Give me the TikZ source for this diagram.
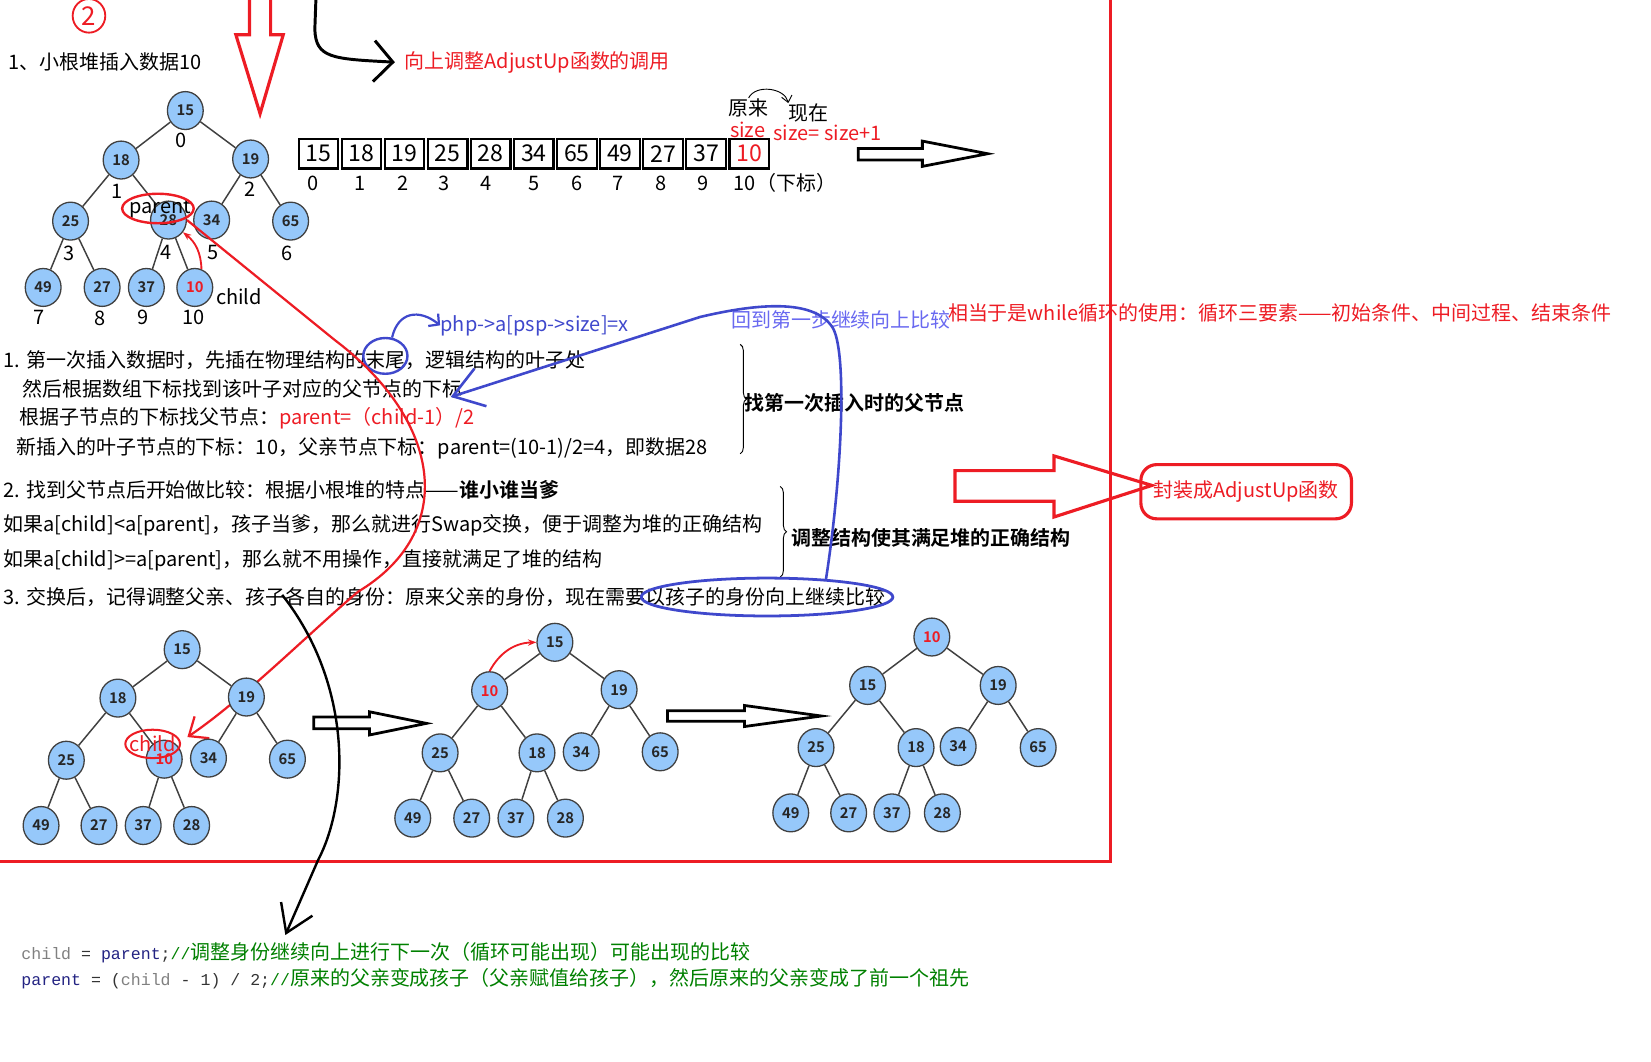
\documentclass[tikz,border=0pt]{standalone}
\usepackage{fontspec}
\setmainfont{Noto Sans CJK SC}[BoldFont={Noto Sans CJK SC Bold}]
\newfontfamily\codefont[Scale=0.83]{Liberation Mono}
\usetikzlibrary{shapes.geometric,arrows.meta,decorations.pathreplacing}
\definecolor{paintred}{RGB}{237,28,36}
\definecolor{paintblue}{RGB}{63,72,204}
\definecolor{softblue}{RGB}{105,105,240}
\definecolor{heapfill}{RGB}{150,200,250}
\definecolor{codegray}{RGB}{128,128,128}
\definecolor{codenavy}{RGB}{35,35,130}
\definecolor{codegreen}{RGB}{0,128,0}
\newcommand\mainsize{\fontsize{10.8}{13}\selectfont}

\begin{document}
\begin{tikzpicture}[x=0.02cm,y=-0.02cm,
  every node/.style={font=\mainsize,inner sep=0pt},
  hp/.style={ellipse,draw=black!75,line width=0.7pt,fill=heapfill,
    minimum width=0.68cm,minimum height=0.72cm,
    font=\fontsize{8}{9}\selectfont\bfseries,text=black!85},
  hpred/.style={hp,text=paintred},
  edge/.style={black!75,line width=0.8pt},
  cell/.style={draw,line width=1.2pt,minimum width=0.75cm,minimum height=0.56cm,
    font=\fontsize{12.5}{14}\selectfont},
  txt/.style={anchor=west},
  bold/.style={anchor=west,font=\mainsize\bfseries},
  hollow/.style={line width=1.5pt,line join=miter},
  redhollow/.style={paintred,line width=1.7pt,line join=miter},
  ringmark/.style={ellipse,line width=1.3pt}]
  \useasboundingbox (0,0) rectangle (1568,1008);

  % red frame
  \draw[paintred,line width=1.6pt] (1055,0) -- (1055,818) -- (0,818);

  % heading
  \node[ringmark,draw=paintred,line width=1pt,minimum width=0.62cm,minimum height=0.64cm,
    text=paintred,font=\fontsize{14}{14}\selectfont] (num) at (84.5,15) {2};
  \node[txt] (title) at (8,59) {1、小根堆插入数据10};
  \node[txt,text=paintred] (calltxt) at (384,59.5) {向上调整AdjustUp函数的调用};
  \draw[redhollow] (237,0) -- (237,33) -- (224,33) -- (247,108) -- (269,33) -- (257,33) -- (257,0);
  \coordinate (callin) at (300,0);
  \draw[line width=1.6pt,-{Straight Barb[length=0.36cm,width=0.78cm]},shorten >=0.18cm]
    (callin) -- (299,28) .. controls (300,55) and (315,56) .. (calltxt.west);

  % heap before the swap
  \foreach \n/\x/\y in {15/176/105,18/115/152,19/238/151,25/67/210,28/160/209,
      34/201/209,65/276/210,49/41/273,27/97/273,37/139/273}
    \node[hp] (p\n) at (\x,\y) {\n};
  \node[hpred] (p10) at (185,273) {10};
  \foreach \a/\b in {15/18,15/19,18/25,18/28,19/34,19/65,25/49,25/27,28/37,28/10}
    \draw[edge] (p\a) -- (p\b);
  \foreach \t/\x/\y in {0/172/133,1/111/182,2/237/180,3/66/241,4/158/240,5/202/240,
      6/273/241,7/37/301,8/95/302,9/136/301,10/184/301}
    \node (tl\t) at (\x,\y) {\t};
  \node (childtxt) at (227,282) {child};
  \node (parenttxt) at (152,198) {parent};
  \node[ringmark,draw=paintred,minimum width=1.36cm,minimum height=0.56cm] (pmark) at (150,198) {};
  \draw[paintred,line width=1pt,-{Stealth[length=0.16cm]}] (p10.70) to[bend right=25] (p28.-40);

  % array
  \foreach \v [count=\i from 0] in {15,18,19,25,28,34,65,49,27,37}
    \node[cell] (c\i) at ({302.5+40.9*\i},146) {\v};
  \node[cell,text=paintred] (c10) at (711.5,146) {10};
  \foreach \t/\x in {0/297,1/342,2/383,3/422,4/462,5/507,6/548,7/587,8/628,9/668,10/707}
    \node (ix\t) at (\x,174) {\t};
  \node (idxname) at (756,174) {（下标）};
  \node (old) at (711,102) {原来};
  \node (now) at (768,107) {现在};
  \node[text=paintred] (oldsize) at (710,123.5) {size};
  \node[text=paintred] (newsize) at (786,126.5) {size= size+1};
  \draw[line width=0.5pt,-{Straight Barb[length=0.12cm,width=0.2cm]}]
    (old.north) to[bend left=70] (now.north west);
  \draw[hollow] (815,141) -- (876,141) -- (876,134) -- (938,146) -- (876,158) -- (876,152) -- (815,152) -- cycle;

  % notes
  \node[txt,text=paintblue] (phptxt) at (418,309) {php->a[psp->size]=x};
  \node[txt,text=softblue] (backtxt) at (694,304) {回到第一步继续向上比较};
  \node[txt,text=paintred] (whiletxt) at (900,297) {相当于是while循环的使用：循环三要素——初始条件、中间过程、结束条件};
  \node[txt] (s1a) at (3,342) {1. 第一次插入数据时，先插在物理结构的末尾，逻辑结构的叶子处};
  \node[txt] (s1b) at (21,369) {然后根据数组下标找到该叶子对应的父节点的下标};
  \node[txt] (s1c) at (18,397) {根据子节点的下标找父节点：\textcolor{paintred}{parent=（child-1）/2}};
  \node[txt] (s1d) at (15,426) {新插入的叶子节点的下标：10，父亲节点下标：parent=(10-1)/2=4，即数据28};
  \node[bold] (s1note) at (707,383) {找第一次插入时的父节点};
  \node[txt] (s2a) at (3,465) {2. 找到父节点后开始做比较：根据小根堆的特点——\textbf{谁小谁当爹}};
  \node[txt] (s2b) at (3,499) {如果a[child]<a[parent]，孩子当爹，那么就进行Swap交换，便于调整为堆的正确结构};
  \node[txt] (s2c) at (3,532) {如果a[child]>=a[parent]，那么就不用操作，直接就满足了堆的结构};
  \node[bold] (s2note) at (751,511) {调整结构使其满足堆的正确结构};
  \node[txt] (s3) at (3,567) {3. 交换后，记得调整父亲、孩子各自的身份：原来父亲的身份，现在需要以孩子的身份向上继续比较};
  \draw[line width=0.5pt,decorate,decoration={brace,amplitude=0.12cm}] (703,327) -- (703,431);
  \draw[line width=0.5pt,decorate,decoration={brace,amplitude=0.12cm}] (741,462) -- (741,548);

  % blue marks
  \node[ringmark,draw=paintblue,minimum width=0.84cm,minimum height=0.68cm] (tailmark) at (366,338) {};
  \node[ringmark,draw=paintblue,line width=1.5pt,minimum width=4.78cm,minimum height=0.72cm] (loopmark) at (728.5,567) {};
  \draw[paintblue,line width=1.2pt,-{Straight Barb[length=0.14cm,width=0.3cm]}]
    (tailmark.70) .. controls (378,296) and (398,293) .. (phptxt.west);
  \coordinate (bluetip) at (428,377);
  \draw[paintblue,line width=1.4pt,-{Straight Barb[length=0.55cm,width=0.75cm]}]
    (loopmark.17) .. controls (800,450) and (805,330) .. (790,310)
    .. controls (772,284) and (720,288) .. (665,301) -- (bluetip);

  % red and black strokes
  \draw[paintred,line width=1.2pt,-{Straight Barb[length=0.3cm,width=0.5cm]}]
    (p28.east) -- (318,323) .. controls (420,400) and (435,505) .. (340,562)
    .. controls (295,600) and (230,665) .. (178,700);
  \coordinate (bendin) at (268,565);
  \coordinate (codein) at (271,888);
  \draw[line width=1.3pt,-{Straight Barb[length=0.5cm,width=0.65cm]}]
    (bendin) .. controls (335,650) and (332,760) .. (302,817) -- (codein);

  % heap after the swap
  \foreach \n/\x/\y in {15/173/617,18/112/663,19/234/662,25/63/722,34/198/720,
      65/273/721,49/39/784,27/94/784,37/136/784,28/182/784}
    \node[hp] (q\n) at (\x,\y) {\n};
  \node[hpred] (q10) at (156,721) {10};
  \foreach \a/\b in {15/18,15/19,18/25,18/10,19/34,19/65,25/49,25/27,10/37,10/28}
    \draw[edge] (q\a) -- (q\b);
  \node[text=paintred] (childred) at (145,706) {child};
  \node[ringmark,draw=paintred,line width=1.1pt,minimum width=1.04cm,minimum height=0.54cm] (cmark) at (145,706.5) {};
  \draw[hollow] (298,681) -- (351,681) -- (351,676) -- (405,687) -- (351,698) -- (351,692) -- (298,692) -- cycle;

  \foreach \n/\x/\y in {15/527/610,19/588/655,25/418/715,18/510/715,34/552/714,
      65/627/714,49/392/777,27/448/777,37/490/777,28/537/777}
    \node[hp] (r\n) at (\x,\y) {\n};
  \node[hpred] (r10) at (465,656) {10};
  \foreach \a/\b in {15/10,15/19,10/25,10/18,19/34,19/65,25/49,25/27,18/37,18/28}
    \draw[edge] (r\a) -- (r\b);
  \draw[paintred,line width=1pt,-{Stealth[length=0.16cm]}] (r10.north) to[bend left=30] (r15.west);
  \draw[hollow] (634,675) -- (707,675) -- (707,670) -- (780,680) -- (707,690) -- (707,685) -- (634,685) -- cycle;

  \foreach \n/\x/\y in {15/824/651,19/948/651,25/775/710,18/870/710,34/910/709,
      65/986/710,49/751/772,27/806/772,37/847/772,28/895/772}
    \node[hp] (s\n) at (\x,\y) {\n};
  \node[hpred] (s10) at (885,605) {10};
  \foreach \a/\b in {10/15,10/19,15/25,15/18,19/34,19/65,25/49,25/27,18/37,18/28}
    \draw[edge] (s\a) -- (s\b);

  % wrap into a function
  \draw[redhollow] (907,447) -- (1001,447) -- (1001,433) -- (1094,461) -- (1001,491) -- (1001,476) -- (907,476) -- cycle;
  \node[draw=paintred,line width=1.7pt,rounded corners=0.3cm,minimum width=4cm,
    minimum height=1.03cm,text=paintred] (wrap) at (1183.5,467) {封装成AdjustUp函数};

  % code
  \node[txt,text=black!80] (code1) at (20,905)
    {\codefont\textcolor{codegray}{child} = \textcolor{codenavy}{parent};\textcolor{codegreen}{//{\rmfamily 调整身份继续向上进行下一次（循环可能出现）可能出现的比较}}};
  \node[txt,text=black!80] (code2) at (20,929)
    {\codefont\textcolor{codenavy}{parent} = (\textcolor{codegray}{child} - 1) / 2;\textcolor{codegreen}{//{\rmfamily 原来的父亲变成孩子（父亲赋值给孩子），然后原来的父亲变成了前一个祖先}}};
\end{tikzpicture}
\end{document}
